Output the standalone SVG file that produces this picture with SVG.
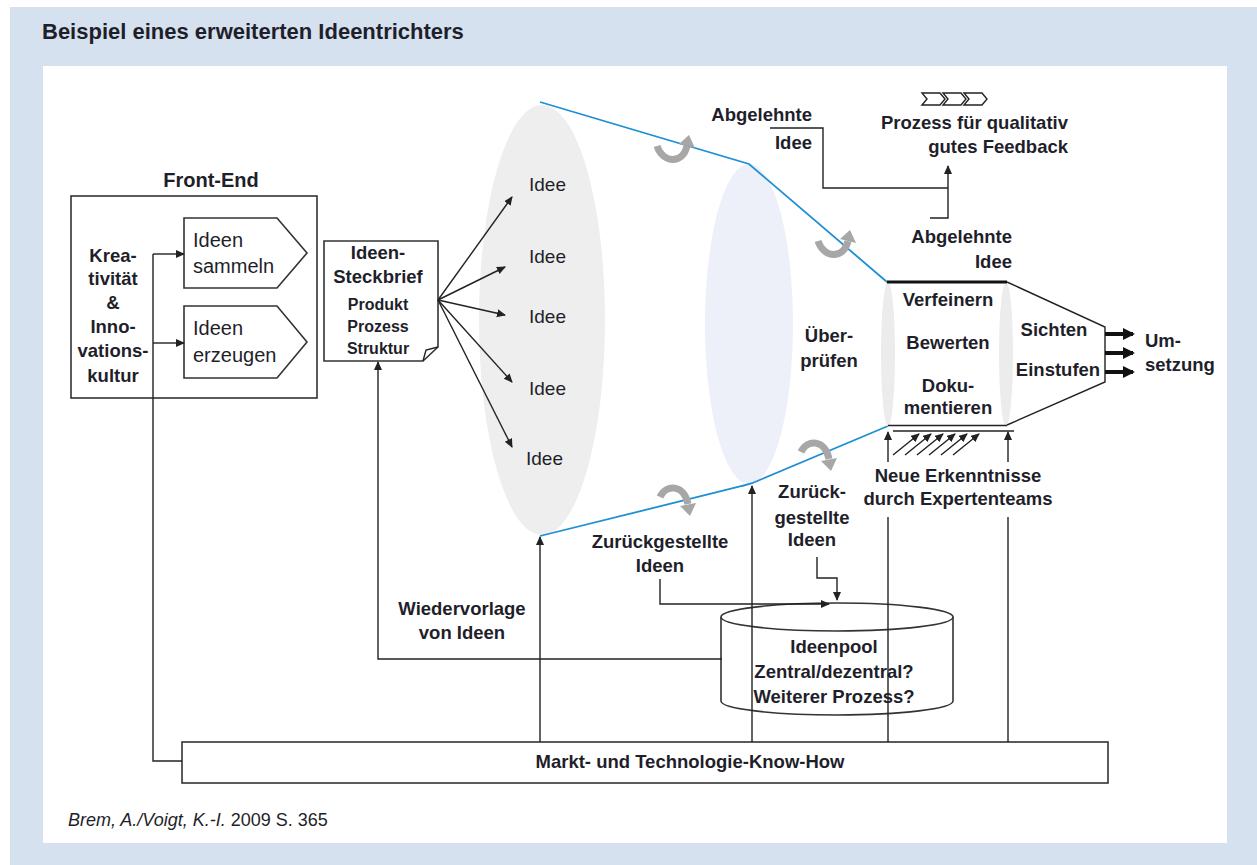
<svg xmlns="http://www.w3.org/2000/svg" width="1257" height="865" viewBox="0 0 1257 865">
  <style>
    text { font-family: "Liberation Sans", Arial, sans-serif; fill: #1f1f2b; }
    .b { font-weight: bold; font-size: 18.5px; }
    .bs { font-weight: bold; font-size: 16px; }
    .r { font-size: 19px; }
    .mid { text-anchor: middle; }
    .end { text-anchor: end; }
    .ln { fill: none; stroke: #222; stroke-width: 1.4; }
    .arr { fill: none; stroke: #222; stroke-width: 1.4; marker-end: url(#ah); }
    .box { fill: #fff; stroke: #333; stroke-width: 1.6; }
    .funnel { fill: none; stroke: #1e8fd5; stroke-width: 1.8; }
    .turn { fill: none; stroke: #a7a7a7; stroke-width: 7; }
    .turnhead { fill: #a7a7a7; }
  </style>
  <defs>
    <marker id="ah" markerUnits="userSpaceOnUse" markerWidth="10" markerHeight="10" refX="8" refY="4" orient="auto">
      <path d="M0,0 L9,4 L0,8 Z" fill="#222"/>
    </marker>
    <marker id="ahs" markerUnits="userSpaceOnUse" markerWidth="8" markerHeight="8" refX="6" refY="3" orient="auto">
      <path d="M0,0 L7,3 L0,6 Z" fill="#222"/>
    </marker>
    <marker id="ahb" markerUnits="userSpaceOnUse" markerWidth="14" markerHeight="14" refX="10" refY="6" orient="auto">
      <path d="M0,0 L12,6 L0,12 Z" fill="#111"/>
    </marker>
    <!-- grey turning arrow, head pointing up -->
    <g id="turnUp">
      <path class="turn" d="M0,0 C6,18 26,18 30,0"/>
      <path class="turnhead" d="M32,-11 L38,2 L22,-2 Z"/>
    </g>
    <!-- grey turning arrow, head pointing down -->
    <g id="turnDown">
      <path class="turn" d="M0,0 C6,-13 24,-13 28,7"/>
      <path class="turnhead" d="M30,19 L36,6 L20,9 Z"/>
    </g>
  </defs>

  <!-- page background -->
  <rect x="0" y="0" width="1257" height="865" fill="#fff"/>
  <rect x="10" y="7" width="1247" height="858" fill="#d6e1ef"/>
  <rect x="43" y="66" width="1184" height="777" fill="#fff"/>

  <text id="title" x="42" y="39" style="font-weight:bold;font-size:22px">Beispiel eines erweiterten Ideentrichters</text>

  <!-- funnel bodies -->
  <g id="funnel">
    <ellipse cx="542" cy="320" rx="63" ry="215" fill="#eeeeee"/>
    <ellipse cx="749" cy="324" rx="44" ry="160" fill="#edf0f8"/>
    <polyline class="funnel" points="540,102 749,164 887,282"/>
    <path class="funnel" d="M540,536 L742,486 Q752,484 762,479 L888,426"/>
    <use href="#turnUp" transform="translate(657,146)"/>
    <use href="#turnUp" transform="translate(818,241)"/>
    <use href="#turnDown" transform="translate(660,497)"/>
    <use href="#turnDown" transform="translate(801,452)"/>
  </g>

  <g id="ideas">
    <text class="r" x="529" y="191">Idee</text>
    <text class="r" x="529" y="263">Idee</text>
    <text class="r" x="529" y="323">Idee</text>
    <text class="r" x="529" y="395">Idee</text>
    <text class="r" x="526" y="465">Idee</text>
  </g>

  <g id="ueberpruefen">
    <text class="b mid" x="829" y="342">Über-</text>
    <text class="b mid" x="829" y="367">prüfen</text>
  </g>

  <!-- front end -->
  <g id="front-end">
    <text x="211" y="187" class="mid" style="font-weight:bold;font-size:20px">Front-End</text>
    <rect class="box" x="71" y="196" width="246" height="202"/>
    <text class="b mid" x="113" y="262">Krea-</text>
    <text class="b mid" x="113" y="285">tivität</text>
    <text class="b mid" x="113" y="309">&amp;</text>
    <text class="b mid" x="113" y="333">Inno-</text>
    <text class="b mid" x="113" y="357">vations-</text>
    <text class="b mid" x="113" y="382">kultur</text>
  </g>
  <g id="ideen-sammeln">
    <polygon class="box" points="184,218 277,218 307,253 277,288 184,288"/>
    <text class="r" x="193" y="247" style="font-size:20px">Ideen</text>
    <text class="r" x="193" y="273" style="font-size:20px">sammeln</text>
  </g>
  <g id="ideen-erzeugen">
    <polygon class="box" points="184,306 277,306 307,342 277,378 184,378"/>
    <text class="r" x="193" y="335" style="font-size:20px">Ideen</text>
    <text class="r" x="193" y="362" style="font-size:20px">erzeugen</text>
  </g>

  <g id="steckbrief">
    <path class="box" d="M324,241 H438 V347 L423,361 H324 Z"/>
    <path class="ln" d="M423,361 L426,350 L438,347"/>
    <text class="b mid" x="378" y="259">Ideen-</text>
    <text class="b mid" x="378" y="283">Steckbrief</text>
    <text class="bs mid" x="378" y="310">Produkt</text>
    <text class="bs mid" x="378" y="332">Prozess</text>
    <text class="bs mid" x="378" y="354">Struktur</text>
  </g>

  <!-- feedback process -->
  <g id="feedback">
    <path class="ln" stroke-width="1.2" d="M922,93 H940 L945,99 L940,105 H922 L927,99 Z"/>
    <path class="ln" stroke-width="1.2" d="M943,93 H961 L966,99 L961,105 H943 L948,99 Z"/>
    <path class="ln" stroke-width="1.2" d="M964,93 H982 L987,99 L982,105 H964 L969,99 Z"/>
    <text class="b end" x="1068" y="129">Prozess für qualitativ</text>
    <text class="b end" x="1068" y="153">gutes Feedback</text>
  </g>
  <g id="abgelehnt-1">
    <text class="b end" x="812" y="121">Abgelehnte</text>
    <text class="b end" x="812" y="149">Idee</text>
  </g>
  <g id="abgelehnt-2">
    <text class="b end" x="1012" y="243">Abgelehnte</text>
    <text class="b end" x="1012" y="268">Idee</text>
  </g>

  <!-- refinement stage -->
  <g id="stage">
    <ellipse cx="888" cy="354" rx="7" ry="72" fill="#ececec"/>
    <ellipse cx="1006" cy="354" rx="7" ry="72" fill="#ececec"/>
    <line x1="887" y1="282" x2="1007" y2="282" stroke="#111" stroke-width="3"/>
    <polyline class="ln" points="1007,282 1105,327 1105,382 1007,425"/>
    <line x1="888" y1="425.5" x2="1007" y2="425.5" stroke="#222" stroke-width="1.4"/>
    <line x1="893" y1="431" x2="1014" y2="431" stroke="#222" stroke-width="1.4"/>
    <text class="b mid" x="948" y="306">Verfeinern</text>
    <text class="b mid" x="948" y="349">Bewerten</text>
    <text class="b mid" x="948" y="392">Doku-</text>
    <text class="b mid" x="948" y="414">mentieren</text>
    <text class="b mid" x="1054" y="336">Sichten</text>
    <text class="b mid" x="1058" y="376">Einstufen</text>
  </g>

  <g id="umsetzung">
    <text class="b" x="1145" y="347">Um-</text>
    <text class="b" x="1145" y="371">setzung</text>
  </g>

  <g id="experten">
    <text class="b mid" x="958" y="482">Neue Erkenntnisse</text>
    <text class="b mid" x="958" y="505">durch Expertenteams</text>
  </g>

  <g id="ideenpool">
    <path class="box" d="M721,617 V701 A116,14 0 0 0 953,701 V617"/>
    <ellipse class="box" cx="837" cy="617" rx="116" ry="14"/>
    <text class="b mid" x="834" y="653">Ideenpool</text>
    <text class="b mid" x="834" y="678">Zentral/dezentral?</text>
    <text class="b mid" x="834" y="703">Weiterer Prozess?</text>
  </g>

  <g id="zurueck-1">
    <text class="b mid" x="660" y="548">Zurückgestellte</text>
    <text class="b mid" x="660" y="572">Ideen</text>
  </g>
  <g id="zurueck-2">
    <text class="b mid" x="812" y="498">Zurück-</text>
    <text class="b mid" x="812" y="524">gestellte</text>
    <text class="b mid" x="812" y="546">Ideen</text>
  </g>

  <g id="wiedervorlage">
    <text class="b mid" x="462" y="615">Wiedervorlage</text>
    <text class="b mid" x="462" y="639">von Ideen</text>
  </g>

  <g id="know-how">
    <rect class="box" x="182" y="742" width="926" height="41"/>
    <text class="mid" x="690" y="768" style="font-weight:bold;font-size:18.5px">Markt- und Technologie-Know-How</text>
  </g>

  <!-- connectors -->
  <g id="connectors">
    <!-- fan from the profile to the ideas -->
    <line class="arr" x1="438" y1="300" x2="512" y2="197"/>
    <line class="arr" x1="438" y1="300" x2="505" y2="267"/>
    <line class="arr" x1="438" y1="300" x2="505" y2="315"/>
    <line class="arr" x1="438" y1="300" x2="512" y2="382"/>
    <line class="arr" x1="438" y1="300" x2="512" y2="447"/>

    <!-- know-how feeding the front end -->
    <path class="ln" d="M182,761 H153 V254"/>
    <line class="arr" x1="153" y1="254" x2="184" y2="254"/>
    <line class="arr" x1="153" y1="343" x2="184" y2="343"/>

    <!-- resubmission from the idea pool -->
    <path class="arr" d="M722,659 H378 V362"/>

    <!-- know-how up into the funnel -->
    <line class="arr" x1="540" y1="742" x2="540" y2="537"/>
    <line class="arr" x1="752" y1="742" x2="752" y2="486"/>
    <line class="ln" x1="888" y1="742" x2="888" y2="517"/>
    <line class="arr" x1="888" y1="462" x2="888" y2="432"/>
    <line class="ln" x1="1008" y1="742" x2="1008" y2="517"/>
    <line class="arr" x1="1008" y1="462" x2="1008" y2="432"/>

    <!-- expert knowledge hatching -->
    <line class="arr" marker-end="url(#ahs)" x1="893" y1="455" x2="919" y2="434"/>
    <line class="arr" marker-end="url(#ahs)" x1="905" y1="455" x2="931" y2="434"/>
    <line class="arr" marker-end="url(#ahs)" x1="917" y1="455" x2="943" y2="434"/>
    <line class="arr" marker-end="url(#ahs)" x1="929" y1="455" x2="955" y2="434"/>
    <line class="arr" marker-end="url(#ahs)" x1="941" y1="455" x2="967" y2="434"/>
    <line class="arr" marker-end="url(#ahs)" x1="953" y1="455" x2="979" y2="434"/>

    <!-- rejected ideas to feedback -->
    <path class="ln" d="M770,128 H823 V188 H948"/>
    <path class="arr" d="M930,218 H948 V166"/>

    <!-- deferred ideas into the pool -->
    <path class="arr" d="M660,579 V604 H829"/>
    <path class="arr" d="M817,557 V578 H837 V600"/>

    <!-- output -->
    <line stroke="#111" stroke-width="4" marker-end="url(#ahb)" x1="1105" y1="334" x2="1133" y2="334"/>
    <line stroke="#111" stroke-width="4" marker-end="url(#ahb)" x1="1105" y1="353" x2="1133" y2="353"/>
    <line stroke="#111" stroke-width="4" marker-end="url(#ahb)" x1="1105" y1="372" x2="1133" y2="372"/>
  </g>

  <text id="source" x="68" y="826" style="font-size:18px"><tspan font-style="italic">Brem, A./Voigt, K.-I.</tspan> 2009 S. 365</text>
</svg>
